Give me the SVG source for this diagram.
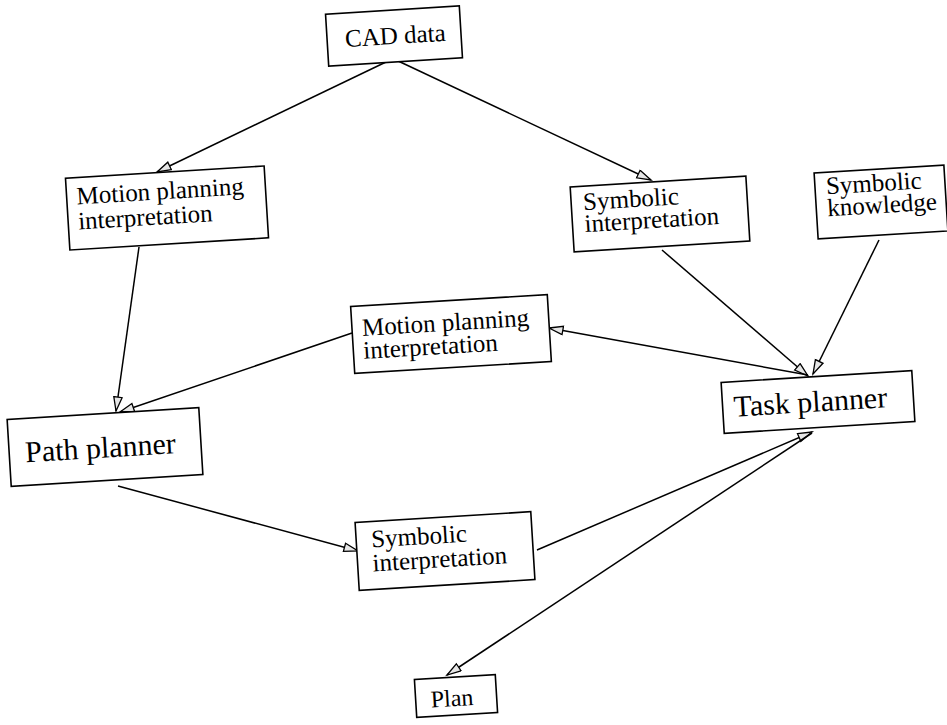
<svg xmlns="http://www.w3.org/2000/svg" width="947" height="725" viewBox="0 0 947 725">
<style>
  .box { fill: #fff; stroke: #000; stroke-width: 1.6; }
  .t { font-family: "Liberation Serif", "Times New Roman", serif; font-size: 25px; fill: #000; }
  .big { font-size: 30px; }
  .edge { fill: none; stroke: #000; stroke-width: 1.5; marker-end: url(#ah); }
</style>
<defs>
  <marker id="ah" markerWidth="18" markerHeight="12" refX="15" refY="5" orient="auto" markerUnits="userSpaceOnUse">
    <path d="M1,0.8 L15,5 L1,9.2 Z" fill="#e6e6e6" stroke="#000" stroke-width="1.3"/>
  </marker>
</defs>
<rect width="947" height="725" fill="#fff"/>
<g id="connectors">
  <line class="edge" x1="386" y1="62" x2="157" y2="172"/>
  <line class="edge" x1="396" y1="60" x2="651" y2="180"/>
  <line class="edge" x1="139" y1="247" x2="116" y2="411"/>
  <line class="edge" x1="352" y1="333" x2="120" y2="412"/>
  <line class="edge" x1="662" y1="250" x2="808" y2="376"/>
  <line class="edge" x1="879" y1="240" x2="813" y2="374"/>
  <line class="edge" x1="808" y1="375" x2="549" y2="328"/>
  <line class="edge" x1="118" y1="486" x2="358" y2="551"/>
  <line class="edge" x1="537" y1="550" x2="812" y2="432"/>
  <line class="edge" x1="812" y1="433" x2="447" y2="675"/>
</g>
<g id="cad" transform="translate(394,36) rotate(-3.5)">
  <rect class="box" x="-67" y="-26" width="134" height="52"/>
  <text class="t" x="-49" y="8">CAD data</text>
</g>
<g id="mp1" transform="translate(167,208) rotate(-3.5)">
  <rect class="box" x="-99.5" y="-36" width="199" height="72"/>
  <text class="t" x="-89.5" y="-9">Motion planning</text>
  <text class="t" x="-89.5" y="16">interpretation</text>
</g>
<g id="si1" transform="translate(660,214) rotate(-3.5)">
  <rect class="box" x="-88" y="-32.5" width="176" height="65"/>
  <text class="t" x="-76" y="-8.5">Symbolic</text>
  <text class="t" x="-76" y="13.5">interpretation</text>
</g>
<g id="sk" transform="translate(881,202) rotate(-3.5)">
  <rect class="box" x="-65" y="-33" width="130" height="66"/>
  <text class="t" x="-54" y="-11">Symbolic</text>
  <text class="t" x="-54" y="11">knowledge</text>
</g>
<g id="mp2" transform="translate(451,334) rotate(-3.5)">
  <rect class="box" x="-98.5" y="-33.5" width="197" height="67"/>
  <text class="t" x="-88.5" y="-3.5">Motion planning</text>
  <text class="t" x="-88.5" y="19.5">interpretation</text>
</g>
<g id="path" transform="translate(105,447) rotate(-3.5)">
  <rect class="box" x="-96" y="-33.5" width="192" height="67"/>
  <text class="t big" x="-80" y="10.5">Path planner</text>
</g>
<g id="task" transform="translate(818,402) rotate(-3.5)">
  <rect class="box" x="-95.5" y="-25.5" width="191" height="51"/>
  <text class="t big" x="-84.5" y="9.5">Task planner</text>
</g>
<g id="si2" transform="translate(445,551) rotate(-3.5)">
  <rect class="box" x="-88" y="-34" width="176" height="68"/>
  <text class="t" x="-73" y="-8">Symbolic</text>
  <text class="t" x="-73" y="16">interpretation</text>
</g>
<g id="plan" transform="translate(456,696) rotate(-3.5)">
  <rect class="box" x="-40.5" y="-19" width="81" height="38"/>
  <text class="t" x="-25.5" y="10" style="font-size:24px">Plan</text>
</g>
</svg>
